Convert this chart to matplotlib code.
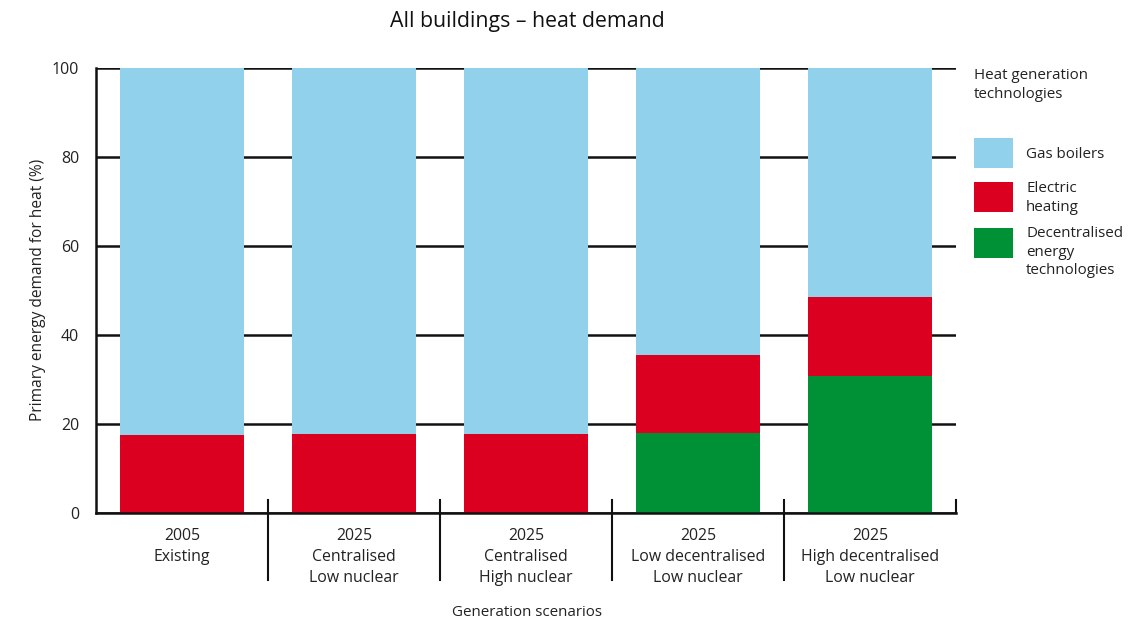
import matplotlib
matplotlib.use("Agg")
import matplotlib.pyplot as plt
import matplotlib.transforms as mtransforms
from matplotlib.patches import Rectangle

plt.rcParams['font.family'] = ['Open Sans', 'DejaVu Sans']

# Scenario labels (three lines each)
years = ["2005", "2025", "2025", "2025", "2025"]
line2 = ["Existing", "Centralised", "Centralised", "Low decentralised", "High decentralised"]
line3 = ["", "Low nuclear", "High nuclear", "Low nuclear", "Low nuclear"]

# Share of primary energy demand for heat (%)
decentralised = [0.0, 0.0, 0.0, 18.0, 30.8]
electric = [17.5, 17.7, 17.7, 17.5, 17.7]
gas = [100 - d - e for d, e in zip(decentralised, electric)]

series_names = ["Gas boilers", "Electric\nheating", "Decentralised\nenergy\ntechnologies"]
c_gas, c_elec, c_dec = "#92D1EC", "#DB0020", "#009036"

fig = plt.figure(figsize=(11.48, 6.24), dpi=100)
ax = fig.add_axes([96 / 1148, 111 / 624, 860 / 1148, 445 / 624])

x = list(range(len(years)))
w = 0.72
ax.bar(x, decentralised, w, color=c_dec, zorder=3)
ax.bar(x, electric, w, bottom=decentralised, color=c_elec, zorder=3)
ax.bar(x, gas, w, bottom=[d + e for d, e in zip(decentralised, electric)], color=c_gas, zorder=3)

ax.set_xlim(-0.5, len(years) - 0.5)
ax.set_ylim(0, 100)
ax.set_yticks([0, 20, 40, 60, 80, 100])
ax.tick_params(axis='y', length=0, labelsize=11.5, pad=12, colors='#222222')
ax.set_xticks([])
ax.yaxis.grid(True, color='#111111', linewidth=1.8, zorder=0)
ax.set_axisbelow(True)
for s in ['top', 'right']:
    ax.spines[s].set_visible(False)
for s in ['left', 'bottom']:
    ax.spines[s].set_linewidth(1.8)
    ax.spines[s].set_color('#111111')
    ax.spines[s].set_zorder(4)

# Category separators below the axis
trans = mtransforms.blended_transform_factory(ax.transData, ax.transAxes)
for xs in [i + 0.5 for i in range(len(years) - 1)]:
    ax.plot([xs, xs], [0.03, -0.15], transform=trans, color='#111111', lw=1.5, clip_on=False, zorder=5)
ax.plot([len(years) - 0.5] * 2, [0.03, 0.0], transform=trans, color='#111111', lw=1.5, clip_on=False, zorder=5)

# Category labels
for i in x:
    txt = "\n".join(t for t in [years[i], line2[i], line3[i]] if t)
    ax.text(i, -0.033, txt, transform=trans, ha='center', va='top', fontsize=11.4,
            color='#222222', linespacing=1.42)

fig.text(527 / 1148, 1 - 21 / 624, "All buildings \u2013 heat demand", ha='center', va='center',
         fontsize=15.3, color='#111111')
fig.text(38 / 1148, 1 - 290 / 624, "Primary energy demand for heat (%)", ha='center', va='center',
         rotation=90, fontsize=11.2, color='#222222')
fig.text(527 / 1148, 1 - 613 / 624, "Generation scenarios", ha='center', va='center',
         fontsize=10.9, color='#222222')

# Legend
fig.text(974 / 1148, 1 - 85 / 624, "Heat generation\ntechnologies", ha='left', va='center',
         fontsize=10.9, color='#222222', linespacing=1.45)
patch_tops = [138, 182, 228]
text_centres = [155, 198, 252]
for top, yc, col, name in zip(patch_tops, text_centres, [c_gas, c_elec, c_dec], series_names):
    fig.patches.append(Rectangle((974 / 1148, 1 - (top + 30) / 624), 39 / 1148, 30 / 624,
                                 transform=fig.transFigure, facecolor=col, edgecolor='none'))
    fig.text(1026 / 1148, 1 - yc / 624, name, ha='left', va='center', fontsize=10.9,
             color='#222222', linespacing=1.35)

fig.savefig("out.png", dpi=100)
